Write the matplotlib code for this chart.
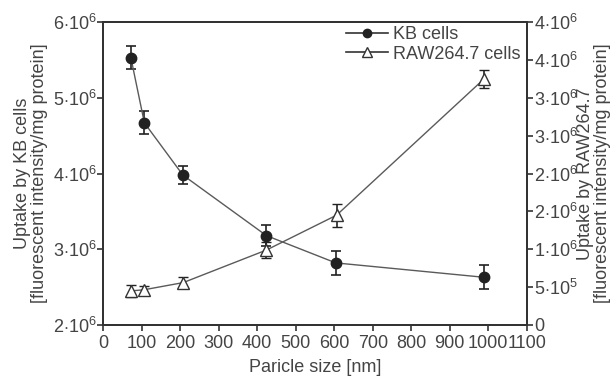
import matplotlib.pyplot as plt
from matplotlib.lines import Line2D
from matplotlib.ticker import FixedLocator, FixedFormatter

plt.rcParams['font.family'] = ['Liberation Sans', 'DejaVu Sans']
plt.rcParams['mathtext.fontset'] = 'custom'
plt.rcParams['mathtext.rm'] = 'Liberation Sans'
plt.rcParams['mathtext.it'] = 'Liberation Sans:italic'

# particle sizes (nm)
size_kb = [72, 107, 207, 424, 604, 989]
size_raw = [72, 106, 208, 424, 606, 989]

# uptake, fluorescent intensity / mg protein
kb_uptake = [5.53e6, 4.67e6, 3.98e6, 3.18e6, 2.82e6, 2.63e6]
kb_err = [0.15e6, 0.15e6, 0.12e6, 0.14e6, 0.16e6, 0.16e6]
raw_uptake = [0.45e6, 0.465e6, 0.56e6, 0.99e6, 1.45e6, 3.25e6]
raw_err = [0.08e6, 0.05e6, 0.07e6, 0.11e6, 0.15e6, 0.12e6]

x_ticks = list(range(0, 1101, 100))
left_ticks = [2e6, 3e6, 4e6, 5e6, 6e6]
left_labels = [r'$2{\cdot}10^6$', r'$3{\cdot}10^6$', r'$4{\cdot}10^6$',
               r'$5{\cdot}10^6$', r'$6{\cdot}10^6$']
right_ticks = [0, 0.5e6, 1e6, 1.5e6, 2e6, 2.5e6, 3e6, 3.5e6, 4e6]
right_labels = ['0', r'$5{\cdot}10^5$', r'$1{\cdot}10^6$', r'$2{\cdot}10^6$',
                r'$2{\cdot}10^6$', r'$3{\cdot}10^6$', r'$3{\cdot}10^6$',
                r'$4{\cdot}10^6$', r'$4{\cdot}10^6$']

txt = '#444444'
line_c = '#5a5a5a'
fs = 13

fig = plt.figure(figsize=(6.14, 3.81), dpi=100)
ax = fig.add_axes([0.168, 0.147, 0.690, 0.795])
ax2 = ax.twinx()

ax.errorbar(size_kb, kb_uptake, yerr=kb_err, fmt='-o', color=line_c,
            mfc='#222222', mec='#222222', ms=7.5, lw=1.0,
            ecolor='#222222', elinewidth=1.2, capsize=3.5, capthick=1.2)
ax2.errorbar(size_raw, raw_uptake, yerr=raw_err, fmt='-^', color=line_c,
             mfc='white', mec='#333333', ms=8, mew=1.0, lw=1.0,
             ecolor='#222222', elinewidth=1.2, capsize=3.5, capthick=1.2)

ax.set_xlim(0, 1100)
ax.set_ylim(2e6, 6e6)
ax2.set_ylim(0, 4e6)

ax.xaxis.set_major_locator(FixedLocator(x_ticks))
ax.yaxis.set_major_locator(FixedLocator(left_ticks))
ax.yaxis.set_major_formatter(FixedFormatter(left_labels))
ax2.yaxis.set_major_locator(FixedLocator(right_ticks))
ax2.yaxis.set_major_formatter(FixedFormatter(right_labels))

for a in (ax, ax2):
    for s in a.spines.values():
        s.set_color('#333333')
        s.set_linewidth(1.4)
    a.tick_params(direction='out', length=4, width=1.2, colors='#333333',
                  labelcolor=txt, labelsize=fs, pad=1.0)
ax.tick_params(axis='x', pad=3.5)

ax.set_xlabel('Paricle size [nm]', fontsize=fs, color=txt, labelpad=5)
ax.set_ylabel('Uptake by KB cells\n[fluorescent intensity/mg protein]',
              fontsize=fs, color=txt, labelpad=3, linespacing=1.0)
ax2.set_ylabel('Uptake by RAW264.7\n[fluorescent intensity/mg protein]',
               fontsize=fs, color=txt, labelpad=0, linespacing=1.0)

# legend shows plain line + marker, without error bars
h1 = Line2D([], [], color='#333333', lw=1.2, marker='o', ms=6,
            mfc='#222222', mec='#222222')
h2 = Line2D([], [], color='#333333', lw=1.2, marker='^', ms=6.5,
            mfc='white', mec='#333333')
leg = ax2.legend([h1, h2], ['KB cells', 'RAW264.7 cells'], loc='upper right',
                 bbox_to_anchor=(0.985, 0.987), frameon=False, fontsize=fs,
                 handlelength=2.3, labelspacing=0.15, borderaxespad=0.0,
                 handletextpad=0.3, borderpad=0.0)
for t in leg.get_texts():
    t.set_color(txt)

fig.savefig('out.png', dpi=100)
